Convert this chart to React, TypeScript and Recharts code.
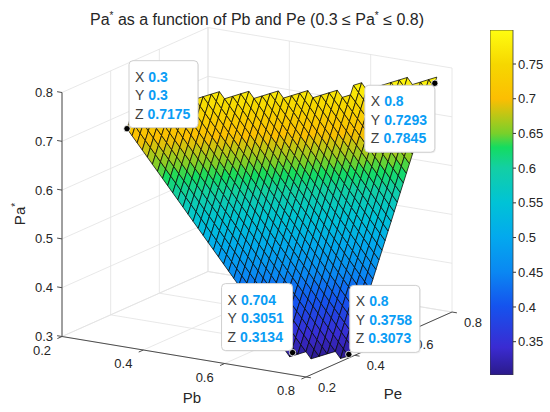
import React from 'react';
import { ScatterChart, Scatter, XAxis, YAxis, BarChart, Bar } from 'recharts';

// Surface grid: Pb (columns) and Pe (rows)
const pbValues = [0.3, 0.3125, 0.325, 0.3375, 0.35, 0.3625, 0.375, 0.3875, 0.4, 0.4125, 0.425, 0.4375, 0.45, 0.4625, 0.475, 0.4875, 0.5, 0.5125, 0.525, 0.5375, 0.55, 0.5625, 0.575, 0.5875, 0.6, 0.6125, 0.625, 0.6375, 0.65, 0.6625, 0.675, 0.6875, 0.7, 0.7125, 0.725, 0.7375, 0.75, 0.7625, 0.775, 0.7875, 0.8];
const peValues = [0.3, 0.3125, 0.325, 0.3375, 0.35, 0.3625, 0.375, 0.3875, 0.4, 0.4125, 0.425, 0.4375, 0.45, 0.4625, 0.475, 0.4875, 0.5, 0.5125, 0.525, 0.5375, 0.55, 0.5625, 0.575, 0.5875, 0.6, 0.6125, 0.625, 0.6375, 0.65, 0.6625, 0.675, 0.6875, 0.7, 0.7125, 0.725, 0.7375, 0.75, 0.7625, 0.775, 0.7875, 0.8];

// Pa*, one row per Pe value; each row starts at column paRowStart[j]
// (outside the visible band the surface is empty, like NaN in the original)
const paRowStart = [0, 0, 0, 0, 1, 2, 4, 5, 6, 7, 9, 10, 11, 13, 14, 15, 17, 18, 19, 21, 22, 23, 25, 26, 27, 29, 29, 30, 32, 33, 34, 35, 36, 38, 39, 40, 41, 41, 41, 41, 41];
const paRows: number[][] = [
  [0.7175, 0.7046, 0.6918, 0.6789, 0.666, 0.6531, 0.6403, 0.6274, 0.6145, 0.6016, 0.5888, 0.5759, 0.563, 0.5501, 0.5373, 0.5244, 0.5115, 0.4986, 0.4858, 0.4729, 0.46, 0.4471, 0.4343, 0.4214, 0.4085, 0.3956, 0.3828, 0.3699, 0.357, 0.3441, 0.3313, 0.3184, 0.3055],
  [0.7344, 0.7216, 0.7087, 0.6958, 0.6829, 0.6701, 0.6572, 0.6443, 0.6314, 0.6186, 0.6057, 0.5928, 0.5799, 0.5671, 0.5542, 0.5413, 0.5284, 0.5156, 0.5027, 0.4898, 0.4769, 0.4641, 0.4512, 0.4383, 0.4254, 0.4126, 0.3997, 0.3868, 0.3739, 0.3611, 0.3482, 0.3353, 0.3224, 0.3096],
  [0.7514, 0.7385, 0.7256, 0.7128, 0.6999, 0.687, 0.6741, 0.6613, 0.6484, 0.6355, 0.6226, 0.6098, 0.5969, 0.584, 0.5711, 0.5583, 0.5454, 0.5325, 0.5196, 0.5068, 0.4939, 0.481, 0.4681, 0.4553, 0.4424, 0.4295, 0.4166, 0.4038, 0.3909, 0.378, 0.3651, 0.3523, 0.3394, 0.3265, 0.3136, 0.3008],
  [0.7683, 0.7554, 0.7426, 0.7297, 0.7168, 0.7039, 0.6911, 0.6782, 0.6653, 0.6524, 0.6396, 0.6267, 0.6138, 0.6009, 0.5881, 0.5752, 0.5623, 0.5494, 0.5366, 0.5237, 0.5108, 0.4979, 0.4851, 0.4722, 0.4593, 0.4464, 0.4336, 0.4207, 0.4078, 0.3949, 0.3821, 0.3692, 0.3563, 0.3434, 0.3306, 0.3177, 0.3048],
  [0.7724, 0.7595, 0.7466, 0.7338, 0.7209, 0.708, 0.6951, 0.6823, 0.6694, 0.6565, 0.6436, 0.6308, 0.6179, 0.605, 0.5921, 0.5793, 0.5664, 0.5535, 0.5406, 0.5278, 0.5149, 0.502, 0.4891, 0.4763, 0.4634, 0.4505, 0.4376, 0.4248, 0.4119, 0.399, 0.3861, 0.3733, 0.3604, 0.3475, 0.3346, 0.3218, 0.3089],
  [0.7764, 0.7636, 0.7507, 0.7378, 0.7249, 0.7121, 0.6992, 0.6863, 0.6734, 0.6606, 0.6477, 0.6348, 0.6219, 0.6091, 0.5962, 0.5833, 0.5704, 0.5576, 0.5447, 0.5318, 0.5189, 0.5061, 0.4932, 0.4803, 0.4674, 0.4546, 0.4417, 0.4288, 0.4159, 0.4031, 0.3902, 0.3773, 0.3644, 0.3516, 0.3387, 0.3258, 0.3129, 0.3001],
  [0.7676, 0.7548, 0.7419, 0.729, 0.7161, 0.7033, 0.6904, 0.6775, 0.6646, 0.6518, 0.6389, 0.626, 0.6131, 0.6003, 0.5874, 0.5745, 0.5616, 0.5488, 0.5359, 0.523, 0.5101, 0.4973, 0.4844, 0.4715, 0.4586, 0.4458, 0.4329, 0.42, 0.4071, 0.3943, 0.3814, 0.3685, 0.3556, 0.3428, 0.3299, 0.317, 0.3041],
  [0.7717, 0.7588, 0.7459, 0.7331, 0.7202, 0.7073, 0.6944, 0.6816, 0.6687, 0.6558, 0.6429, 0.6301, 0.6172, 0.6043, 0.5914, 0.5786, 0.5657, 0.5528, 0.5399, 0.5271, 0.5142, 0.5013, 0.4884, 0.4756, 0.4627, 0.4498, 0.4369, 0.4241, 0.4112, 0.3983, 0.3854, 0.3726, 0.3597, 0.3468, 0.3339, 0.3211],
  [0.7758, 0.7629, 0.75, 0.7371, 0.7243, 0.7114, 0.6985, 0.6856, 0.6728, 0.6599, 0.647, 0.6341, 0.6213, 0.6084, 0.5955, 0.5826, 0.5698, 0.5569, 0.544, 0.5311, 0.5183, 0.5054, 0.4925, 0.4796, 0.4668, 0.4539, 0.441, 0.4281, 0.4153, 0.4024, 0.3895, 0.3766, 0.3638, 0.3509, 0.338],
  [0.7798, 0.7669, 0.7541, 0.7412, 0.7283, 0.7154, 0.7026, 0.6897, 0.6768, 0.6639, 0.6511, 0.6382, 0.6253, 0.6124, 0.5996, 0.5867, 0.5738, 0.5609, 0.5481, 0.5352, 0.5223, 0.5094, 0.4966, 0.4837, 0.4708, 0.4579, 0.4451, 0.4322, 0.4193, 0.4064, 0.3936, 0.3807, 0.3678, 0.3549],
  [0.771, 0.7581, 0.7453, 0.7324, 0.7195, 0.7066, 0.6938, 0.6809, 0.668, 0.6551, 0.6423, 0.6294, 0.6165, 0.6036, 0.5908, 0.5779, 0.565, 0.5521, 0.5393, 0.5264, 0.5135, 0.5006, 0.4878, 0.4749, 0.462, 0.4491, 0.4363, 0.4234, 0.4105, 0.3976, 0.3848, 0.3719],
  [0.7751, 0.7622, 0.7493, 0.7364, 0.7236, 0.7107, 0.6978, 0.6849, 0.6721, 0.6592, 0.6463, 0.6334, 0.6206, 0.6077, 0.5948, 0.5819, 0.5691, 0.5562, 0.5433, 0.5304, 0.5176, 0.5047, 0.4918, 0.4789, 0.4661, 0.4532, 0.4403, 0.4274, 0.4146, 0.4017, 0.3888],
  [0.7791, 0.7663, 0.7534, 0.7405, 0.7276, 0.7148, 0.7019, 0.689, 0.6761, 0.6633, 0.6504, 0.6375, 0.6246, 0.6118, 0.5989, 0.586, 0.5731, 0.5603, 0.5474, 0.5345, 0.5216, 0.5088, 0.4959, 0.483, 0.4701, 0.4573, 0.4444, 0.4315, 0.4186, 0.4058],
  [0.7703, 0.7574, 0.7446, 0.7317, 0.7188, 0.7059, 0.6931, 0.6802, 0.6673, 0.6544, 0.6416, 0.6287, 0.6158, 0.6029, 0.5901, 0.5772, 0.5643, 0.5514, 0.5386, 0.5257, 0.5128, 0.4999, 0.4871, 0.4742, 0.4613, 0.4484, 0.4356, 0.4227],
  [0.7744, 0.7615, 0.7486, 0.7358, 0.7229, 0.71, 0.6971, 0.6843, 0.6714, 0.6585, 0.6456, 0.6328, 0.6199, 0.607, 0.5941, 0.5813, 0.5684, 0.5555, 0.5426, 0.5298, 0.5169, 0.504, 0.4911, 0.4783, 0.4654, 0.4525, 0.4396],
  [0.7784, 0.7656, 0.7527, 0.7398, 0.7269, 0.7141, 0.7012, 0.6883, 0.6754, 0.6626, 0.6497, 0.6368, 0.6239, 0.6111, 0.5982, 0.5853, 0.5724, 0.5596, 0.5467, 0.5338, 0.5209, 0.5081, 0.4952, 0.4823, 0.4694, 0.4566],
  [0.7696, 0.7568, 0.7439, 0.731, 0.7181, 0.7053, 0.6924, 0.6795, 0.6666, 0.6538, 0.6409, 0.628, 0.6151, 0.6023, 0.5894, 0.5765, 0.5636, 0.5508, 0.5379, 0.525, 0.5121, 0.4993, 0.4864, 0.4735],
  [0.7737, 0.7608, 0.7479, 0.7351, 0.7222, 0.7093, 0.6964, 0.6836, 0.6707, 0.6578, 0.6449, 0.6321, 0.6192, 0.6063, 0.5934, 0.5806, 0.5677, 0.5548, 0.5419, 0.5291, 0.5162, 0.5033, 0.4904],
  [0.7778, 0.7649, 0.752, 0.7391, 0.7263, 0.7134, 0.7005, 0.6876, 0.6748, 0.6619, 0.649, 0.6361, 0.6233, 0.6104, 0.5975, 0.5846, 0.5718, 0.5589, 0.546, 0.5331, 0.5203, 0.5074],
  [0.7689, 0.7561, 0.7432, 0.7303, 0.7174, 0.7046, 0.6917, 0.6788, 0.6659, 0.6531, 0.6402, 0.6273, 0.6144, 0.6016, 0.5887, 0.5758, 0.5629, 0.5501, 0.5372, 0.5243],
  [0.773, 0.7601, 0.7473, 0.7344, 0.7215, 0.7086, 0.6958, 0.6829, 0.67, 0.6571, 0.6443, 0.6314, 0.6185, 0.6056, 0.5928, 0.5799, 0.567, 0.5541, 0.5413],
  [0.7771, 0.7642, 0.7513, 0.7384, 0.7256, 0.7127, 0.6998, 0.6869, 0.6741, 0.6612, 0.6483, 0.6354, 0.6226, 0.6097, 0.5968, 0.5839, 0.5711, 0.5582],
  [0.7683, 0.7554, 0.7425, 0.7296, 0.7168, 0.7039, 0.691, 0.6781, 0.6653, 0.6524, 0.6395, 0.6266, 0.6138, 0.6009, 0.588, 0.5751],
  [0.7723, 0.7594, 0.7466, 0.7337, 0.7208, 0.7079, 0.6951, 0.6822, 0.6693, 0.6564, 0.6436, 0.6307, 0.6178, 0.6049, 0.5921],
  [0.7764, 0.7635, 0.7506, 0.7378, 0.7249, 0.712, 0.6991, 0.6863, 0.6734, 0.6605, 0.6476, 0.6348, 0.6219, 0.609],
  [0.7676, 0.7547, 0.7418, 0.7289, 0.7161, 0.7032, 0.6903, 0.6774, 0.6646, 0.6517, 0.6388, 0.6259],
  [0.7845, 0.7716, 0.7588, 0.7459, 0.733, 0.7201, 0.7073, 0.6944, 0.6815, 0.6686, 0.6558, 0.6429],
  [0.7886, 0.7757, 0.7628, 0.7499, 0.7371, 0.7242, 0.7113, 0.6984, 0.6856, 0.6727, 0.6598],
  [0.7798, 0.7669, 0.754, 0.7411, 0.7283, 0.7154, 0.7025, 0.6896, 0.6768],
  [0.7838, 0.7709, 0.7581, 0.7452, 0.7323, 0.7194, 0.7066, 0.6937],
  [0.7879, 0.775, 0.7621, 0.7493, 0.7364, 0.7235, 0.7106],
  [0.7919, 0.7791, 0.7662, 0.7533, 0.7404, 0.7276],
  [0.796, 0.7831, 0.7703, 0.7574, 0.7445],
  [0.7872, 0.7743, 0.7614],
  [0.7913, 0.7784],
  [0.7953],
  [],
  [],
  [],
  [],
  [],
];

const zTicks = [0.3, 0.4, 0.5, 0.6, 0.7, 0.8];
const pbTicks = [0.2, 0.4, 0.6, 0.8];
const peTicks = [0.2, 0.4, 0.6, 0.8];
const colorbarTicks = [0.35, 0.4, 0.45, 0.5, 0.55, 0.6, 0.65, 0.7, 0.75];
const colorLimits: [number, number] = [0.302, 0.799];

// Data tips
const tipPb = [0.3, 0.8, 0.704, 0.8];
const tipPe = [0.3, 0.7293, 0.3051, 0.3758];
const tipPa = [0.7175, 0.7845, 0.3134, 0.3073];

// ---------- layout & style ----------
const W = 550;
const H = 412;
const FONT = '"Liberation Sans", Arial, Helvetica, sans-serif';
const TEXT = '#262626';
const VALUE_BLUE = '#0a9df5';
const H_DOMAIN: [number, number] = [0.04755, 1.3999];
const V_DOMAIN: [number, number] = [0.14529, 0.98955];
const tipBoxes = [
  { dx: 2, dy: -68, w: 69 },
  { dx: -70, dy: 2, w: 70 },
  { dx: -71, dy: -69, w: 71 },
  { dx: 1, dy: -69, w: 70 },
];
const parulaStops: [number, string][] = [
  [0.0, '#2b1a8a'],
  [0.08, '#3a2bd2'],
  [0.2, '#1553ee'],
  [0.3, '#0a88f2'],
  [0.4, '#03a9ee'],
  [0.5, '#00c3d6'],
  [0.6, '#13cfa4'],
  [0.66, '#14dc60'],
  [0.7, '#78d02b'],
  [0.8, '#fcbe02'],
  [0.9, '#f6d700'],
  [1.0, '#fffd10'],
];

const PB0 = pbTicks[0];
const PB1 = pbTicks[pbTicks.length - 1];
const PE0 = peTicks[0];
const PE1 = peTicks[peTicks.length - 1];
const Z0 = zTicks[0];
const Z1 = zTicks[zTicks.length - 1];

type P3 = [number, number, number];

function project(p: P3) {
  const [pb, pe, z] = p;
  return { h: pb + 0.5983 * (pe - PE0), v: z - 0.1383 * (pb - PB0) + 0.2219 * (pe - PE0) };
}

function hexToRgb(hex: string) {
  const n = parseInt(hex.slice(1), 16);
  return [(n >> 16) & 255, (n >> 8) & 255, n & 255];
}

function colorAt(val: number) {
  let t = (val - colorLimits[0]) / (colorLimits[1] - colorLimits[0]);
  t = Math.max(0, Math.min(1, t));
  for (let k = 0; k < parulaStops.length - 1; k++) {
    const [o1, c1] = parulaStops[k];
    const [o2, c2] = parulaStops[k + 1];
    if (t >= o1 && t <= o2) {
      const f = (t - o1) / (o2 - o1);
      const a = hexToRgb(c1);
      const b = hexToRgb(c2);
      const r = a.map((x, q) => Math.round(x + (b[q] - x) * f));
      return `rgb(${r[0]},${r[1]},${r[2]})`;
    }
  }
  return parulaStops[parulaStops.length - 1][1];
}

// full Pa* table (null where the surface is empty)
const paGrid: (number | null)[][] = peValues.map((_, j) =>
  pbValues.map((__, i) => {
    const k = i - paRowStart[j];
    return k >= 0 && k < paRows[j].length ? paRows[j][k] : null;
  })
);

// ---------- surface cells ----------
const cells: { pts: P3[]; color: string }[] = [];
for (let j = 0; j < peValues.length - 1; j++) {
  for (let i = 0; i < pbValues.length - 1; i++) {
    const idx = [
      [i, j],
      [i + 1, j],
      [i + 1, j + 1],
      [i, j + 1],
    ];
    const pts: P3[] = [];
    for (const [a, b] of idx) {
      const z = paGrid[b][a];
      if (z !== null && z !== undefined) pts.push([pbValues[a], peValues[b], z]);
    }
    if (pts.length >= 3) {
      const mean = pts.reduce((s, p) => s + p[2], 0) / pts.length;
      cells.push({ pts, color: colorAt(mean) });
    }
  }
}
const surfacePoints = cells.flatMap((c) => c.pts.map((p) => project(p)));

// ---------- box grid, axes, ticks ----------
const gridSegs: [P3, P3][] = [];
pbTicks.forEach((pb) => gridSegs.push([[pb, PE0, Z0], [pb, PE1, Z0]]));
peTicks.forEach((pe) => gridSegs.push([[PB0, pe, Z0], [PB1, pe, Z0]]));
peTicks.forEach((pe) => gridSegs.push([[PB0, pe, Z0], [PB0, pe, Z1]]));
zTicks.forEach((z) => gridSegs.push([[PB0, PE0, z], [PB0, PE1, z]]));
pbTicks.forEach((pb) => gridSegs.push([[pb, PE1, Z0], [pb, PE1, Z1]]));
zTicks.forEach((z) => gridSegs.push([[PB0, PE1, z], [PB1, PE1, z]]));

const axisSegs: [P3, P3][] = [
  [[PB0, PE0, Z0], [PB0, PE0, Z1]],
  [[PB0, PE0, Z0], [PB1, PE0, Z0]],
  [[PB1, PE0, Z0], [PB1, PE1, Z0]],
];
const tickSegs: [P3, P3][] = [];
zTicks.forEach((z) => tickSegs.push([[PB0, PE0, z], [PB0 - 0.012, PE0, z]]));
pbTicks.forEach((pb) => tickSegs.push([[pb, PE0, Z0], [pb, PE0 - 0.019, Z0]]));
peTicks.forEach((pe) => tickSegs.push([[PB1, pe, Z0], [PB1 + 0.012, pe, Z0]]));

const segPoints = (segs: [P3, P3][]) => segs.flatMap(([a, b]) => [project(a), project(b)]);
const gridPoints = segPoints(gridSegs);
const axisPoints = segPoints(axisSegs);
const tickPoints = segPoints(tickSegs);

const zLabelPts = zTicks.map((z) => ({ ...project([PB0, PE0, z]), label: String(z) }));
const pbLabelPts = pbTicks.map((pb) => ({ ...project([pb, PE0, Z0]), label: String(pb) }));
const peLabelPts = peTicks.map((pe) => ({ ...project([PB1, pe, Z0]), label: String(pe) }));
const tipPts = tipPb.map((pb, k) => ({
  ...project([pb, tipPe[k], tipPa[k]]),
  k,
  x: String(pb),
  y: String(tipPe[k]),
  z: String(tipPa[k]),
}));

// ---------- renderers ----------
const noShape = () => <g />;

const makeSegmentLine = (stroke: string, width: number) => (props: any) => {
  const pts = props.points || [];
  let d = '';
  for (let k = 0; k + 1 < pts.length; k += 2) {
    d += `M${pts[k].x},${pts[k].y}L${pts[k + 1].x},${pts[k + 1].y}`;
  }
  return <path d={d} stroke={stroke} strokeWidth={width} fill="none" />;
};

const renderSurface = (props: any) => {
  const pts = props.points || [];
  let k = 0;
  const paths = cells.map((c, n) => {
    const ps = pts.slice(k, k + c.pts.length);
    k += c.pts.length;
    if (ps.length < 3) return null;
    const d = 'M' + ps.map((p: any) => `${p.x.toFixed(2)},${p.y.toFixed(2)}`).join('L') + 'Z';
    return <path key={n} d={d} fill={c.color} stroke="#050505" strokeWidth={0.75} strokeLinejoin="round" />;
  });
  return <g>{paths}</g>;
};

const labelShape = (dx: number, dy: number, anchor: 'start' | 'middle' | 'end') => (props: any) => (
  <text x={props.cx + dx} y={props.cy + dy} textAnchor={anchor} fontSize={13} fontFamily={FONT} fill={TEXT}>
    {props.payload.label}
  </text>
);

const tipShape = (props: any) => {
  const { cx, cy, payload } = props;
  const b = tipBoxes[payload.k];
  const left = cx + b.dx;
  const top = cy + b.dy;
  const rows: [string, string][] = [
    ['X', payload.x],
    ['Y', payload.y],
    ['Z', payload.z],
  ];
  return (
    <g>
      <rect x={left + 1} y={top + 1} width={b.w} height={67} rx={4} fill="#000" fillOpacity={0.06} />
      <rect x={left} y={top} width={b.w} height={67} rx={4} fill="#fff" stroke="#cfcfcf" strokeWidth={1} />
      {rows.map(([l, v], r) => (
        <text key={r} x={left + 6} y={top + 21 + r * 18.5} fontSize={14} fontFamily={FONT}>
          <tspan fill="#404040">{l}</tspan>
          <tspan dx={4} fill={VALUE_BLUE} fontWeight="bold">
            {v}
          </tspan>
        </text>
      ))}
      <circle cx={cx} cy={cy} r={3.2} fill="#000" stroke="#fff" strokeWidth={0.8} />
    </g>
  );
};

export default function App() {
  return (
    <div style={{ position: 'absolute', left: 0, top: 0, width: W, height: H, background: '#fff' }}>
      <ScatterChart width={W} height={H} margin={{ top: 0, right: 0, bottom: 0, left: 0 }}>
        <XAxis type="number" dataKey="h" domain={H_DOMAIN} hide allowDataOverflow />
        <YAxis type="number" dataKey="v" domain={V_DOMAIN} hide allowDataOverflow />
        <Scatter data={gridPoints} line={makeSegmentLine('#e2e2e2', 0.8)} shape={noShape} isAnimationActive={false} />
        <Scatter data={axisPoints} line={makeSegmentLine('#4d4d4d', 1)} shape={noShape} isAnimationActive={false} />
        <Scatter data={tickPoints} line={makeSegmentLine('#4d4d4d', 1)} shape={noShape} isAnimationActive={false} />
        <Scatter data={surfacePoints} line={renderSurface} shape={noShape} isAnimationActive={false} />
        <Scatter data={zLabelPts} shape={labelShape(-9, 4.5, 'end')} isAnimationActive={false} />
        <Scatter data={pbLabelPts} shape={labelShape(-20, 18.5, 'middle')} isAnimationActive={false} />
        <Scatter data={peLabelPts} shape={labelShape(21, 15, 'middle')} isAnimationActive={false} />
        <Scatter data={tipPts} shape={tipShape} isAnimationActive={false} />
      </ScatterChart>

      <div style={{ position: 'absolute', left: 490, top: 0 }}>
        <BarChart
          width={60}
          height={H}
          data={[{ name: 'c', range: colorLimits }]}
          margin={{ top: 30, right: 0, bottom: H - 375, left: 0 }}
          barCategoryGap={0}
        >
          <defs>
            <linearGradient id="parulaGrad" x1="0" y1="1" x2="0" y2="0">
              {parulaStops.map(([o, c]) => (
                <stop key={o} offset={o} stopColor={c} />
              ))}
            </linearGradient>
          </defs>
          <XAxis dataKey="name" hide />
          <YAxis
            orientation="right"
            type="number"
            domain={colorLimits}
            ticks={colorbarTicks}
            width={37}
            allowDataOverflow
            axisLine={false}
            tickSize={3}
            tickLine={{ stroke: '#333' }}
            tick={{ fontSize: 13, fill: TEXT, fontFamily: FONT }}
            interval={0}
          />
          <Bar dataKey="range" fill="url(#parulaGrad)" stroke="#3a3a3a" strokeWidth={0.8} isAnimationActive={false} />
        </BarChart>
      </div>

      <svg width={W} height={H} style={{ position: 'absolute', left: 0, top: 0, pointerEvents: 'none' }}>
        <text x={257} y={25} textAnchor="middle" fontSize={16} fontFamily={FONT} fill={TEXT}>
          Pa
          <tspan dy={-6} fontSize={10}>*</tspan>
          <tspan dy={6}> as a function of Pb and Pe (0.3 ≤ Pa</tspan>
          <tspan dy={-6} fontSize={10}>*</tspan>
          <tspan dy={6}> ≤ 0.8)</tspan>
        </text>
        <text x={192} y={403} textAnchor="middle" fontSize={15} fontFamily={FONT} fill={TEXT}>
          Pb
        </text>
        <text x={393} y={399} textAnchor="middle" fontSize={15} fontFamily={FONT} fill={TEXT}>
          Pe
        </text>
        <text transform="translate(25,214) rotate(-90)" textAnchor="middle" fontSize={15} fontFamily={FONT} fill={TEXT}>
          Pa
          <tspan dy={-6} fontSize={10}>*</tspan>
        </text>
      </svg>
    </div>
  );
}
